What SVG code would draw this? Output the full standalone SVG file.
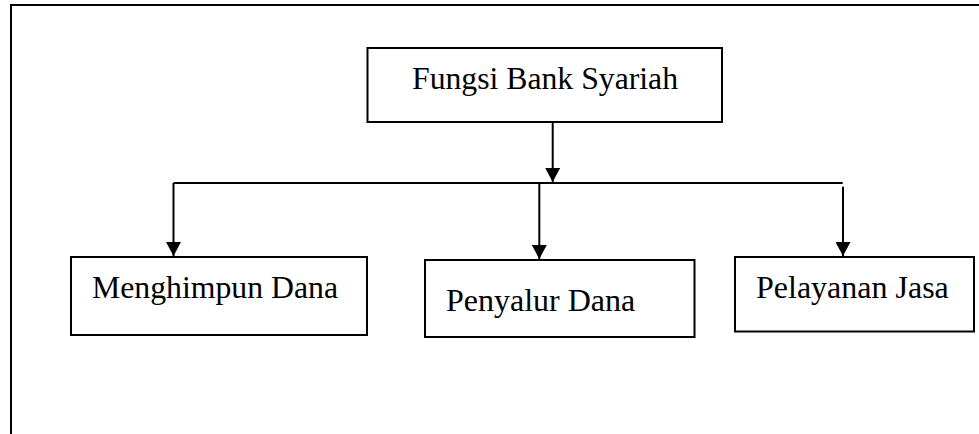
<svg xmlns="http://www.w3.org/2000/svg" width="979" height="434" viewBox="0 0 979 434">
<style>
.box{fill:#fff;stroke:#000;stroke-width:2}
.ln{fill:none;stroke:#000;stroke-width:2}
.t{font-family:'Liberation Serif',Tinos,'Times New Roman','DejaVu Serif',serif;font-size:32px;fill:#000}
</style>
<defs>
<marker id="ah" markerUnits="userSpaceOnUse" markerWidth="16" markerHeight="15" refX="14" refY="7.5" orient="auto">
<path d="M0,0 L14,7.5 L0,15 Z" fill="#000"/>
</marker>
</defs>
<rect width="979" height="434" fill="#fff"/>
<path class="ln" d="M11,434 V5 H979"/>
<g id="connectors">
<path class="ln" d="M552.7,122 V182" marker-end="url(#ah)"/>
<path class="ln" d="M173.5,183 H842.7"/>
<path class="ln" d="M173.5,183 V256" marker-end="url(#ah)"/>
<path class="ln" d="M539.3,183 V259" marker-end="url(#ah)"/>
<path class="ln" d="M843,186.7 V256" marker-end="url(#ah)"/>
</g>
<g id="fungsi">
<rect class="box" x="367.5" y="48" width="354.5" height="74"/>
<text class="t" x="412" y="89" textLength="266" lengthAdjust="spacingAndGlyphs">Fungsi Bank Syariah</text>
</g>
<g id="menghimpun">
<rect class="box" x="71" y="257" width="296" height="78"/>
<text class="t" x="92" y="298" textLength="246" lengthAdjust="spacingAndGlyphs">Menghimpun Dana</text>
</g>
<g id="penyalur">
<rect class="box" x="425" y="260" width="269.5" height="77"/>
<text class="t" x="446" y="311">Penyalur Dana</text>
</g>
<g id="pelayanan">
<rect class="box" x="735" y="257" width="239" height="74.5"/>
<text class="t" x="756" y="298">Pelayanan Jasa</text>
</g>
</svg>
